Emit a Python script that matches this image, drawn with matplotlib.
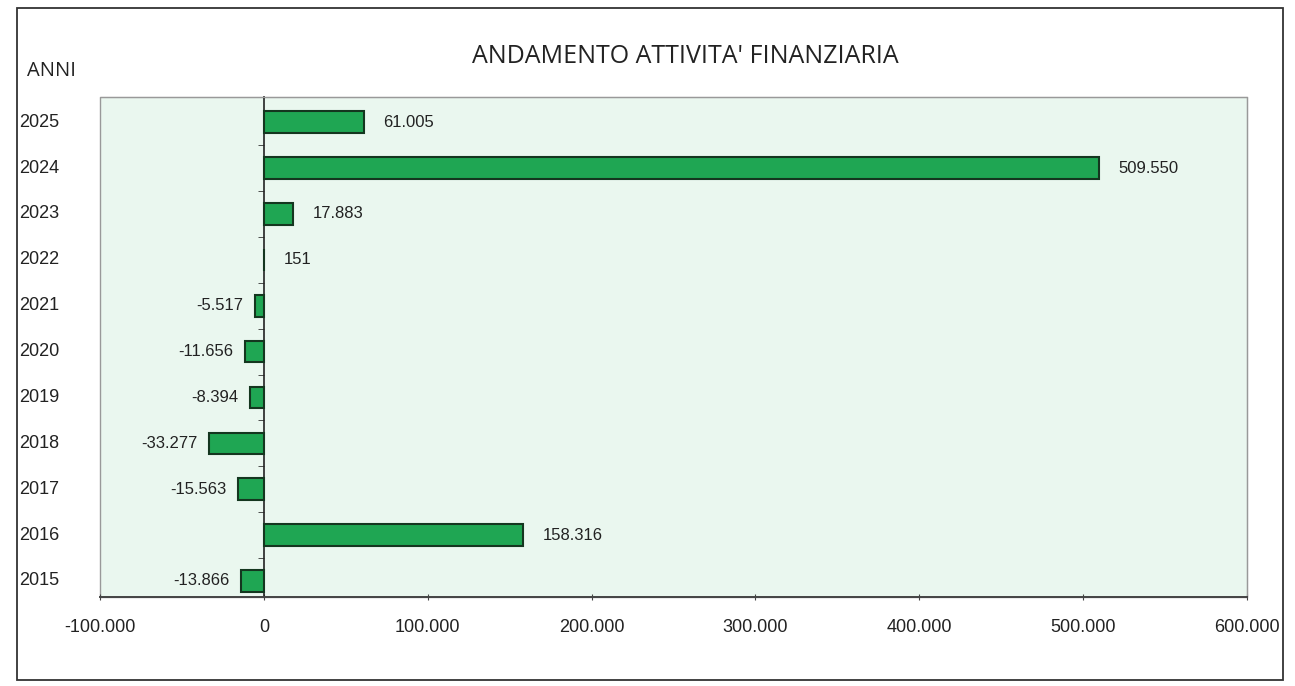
import matplotlib
matplotlib.use("Agg")
import matplotlib.pyplot as plt
import matplotlib.transforms as mtransforms
from matplotlib.patches import Rectangle

# data (values in euro, italian formatting on labels)
anni = ['2015', '2016', '2017', '2018', '2019', '2020', '2021', '2022', '2023', '2024', '2025']
valori = [-13866, 158316, -15563, -33277, -8394, -11656, -5517, 151, 17883, 509550, 61005]
etichette = ['-13.866', '158.316', '-15.563', '-33.277', '-8.394', '-11.656',
             '-5.517', '151', '17.883', '509.550', '61.005']
xticks = [-100000, 0, 100000, 200000, 300000, 400000, 500000, 600000]
xtick_labels = ['-100.000', '0', '100.000', '200.000', '300.000', '400.000', '500.000', '600.000']


def main():
    plt.rcParams['font.family'] = ['Liberation Sans', 'DejaVu Sans']

    fig = plt.figure(figsize=(12.95, 6.86), dpi=100)
    fig.patch.set_facecolor('white')
    # outer border of the chart box
    fig.add_artist(Rectangle((0.013, 0.009), 0.978, 0.979, transform=fig.transFigure,
                             fill=False, edgecolor='#333333', linewidth=1.3))

    ax = fig.add_axes([0.0772, 0.1297, 0.8858, 0.7289])
    ax.set_facecolor('#eaf7ef')

    pos = list(range(len(anni)))
    ax.barh(pos, valori, height=0.47, color='#1fa653', edgecolor='#14361f', linewidth=1.5, zorder=3)

    ax.set_xlim(-100000, 600000)
    ax.set_ylim(-0.35, 10.55)

    # value labels
    for p, v, lab in zip(pos, valori, etichette):
        if v >= 0:
            ax.text(v + 12000, p, lab, ha='left', va='center', fontsize=12, color='#222222')
        else:
            ax.text(v - 7000, p, lab, ha='right', va='center', fontsize=12, color='#222222')

    # vertical axis through zero
    ax.spines['left'].set_position(('data', 0))
    ax.spines['left'].set_color('#222222')
    ax.spines['left'].set_linewidth(1.2)
    ax.spines['top'].set_color('#999999')
    ax.spines['right'].set_color('#999999')
    ax.spines['bottom'].set_color('#444444')
    ax.spines['bottom'].set_linewidth(1.4)
    ax.add_patch(Rectangle((0, 0), 1, 1, transform=ax.transAxes, fill=False,
                           edgecolor='#999999', linewidth=1.0, clip_on=False, zorder=1))

    ax.set_yticks(pos)
    ax.set_yticklabels([])
    ax.tick_params(axis='y', which='major', length=0)
    ax.set_yticks([p + 0.5 for p in pos[:-1]], minor=True)
    ax.tick_params(axis='y', which='minor', length=4, color='#333333')

    ax.set_xticks(xticks)
    ax.set_xticklabels(xtick_labels, fontsize=13, color='#222222')
    ax.tick_params(axis='x', length=5, direction='inout', color='#444444', pad=13)

    # year labels at the far left of the box
    trans = mtransforms.blended_transform_factory(fig.transFigure, ax.transData)
    for p, a in zip(pos, anni):
        ax.text(0.015, p, a, transform=trans, ha='left', va='center', fontsize=13, color='#222222')

    fig.text(0.021, 0.897, 'ANNI', ha='left', va='center', fontsize=14.5, family=['Open Sans', 'DejaVu Sans'],
             color='#222222')
    fig.text(0.529, 0.918, "ANDAMENTO ATTIVITA' FINANZIARIA", ha='center', va='center', fontsize=18,
             family=['Open Sans', 'DejaVu Sans'], color='#222222')

    fig.savefig('out.png', dpi=100)


if __name__ == "__main__":
    main()
